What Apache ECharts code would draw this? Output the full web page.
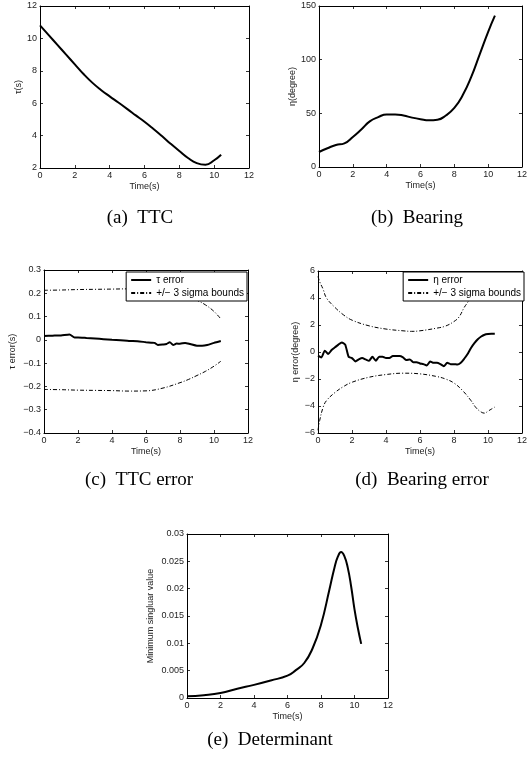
<!DOCTYPE html>
<html>
<head>
<meta charset="utf-8">
<script src="https://cdn.jsdelivr.net/npm/echarts@6/dist/echarts.min.js"></script>
<style>html,body{margin:0;padding:0;background:#fff}#c{width:530px;height:761px}</style>
</head>
<body>
<div id="c"></div>
<script>
// (a) TTC
const ttcT = [0,0.5,1,1.5,2,2.5,3,3.5,4,4.5,5,5.5,6,6.5,7,7.5,8,8.5,9,9.5,10,10.4];
const ttcV = [10.8,10.2,9.6,9.0,8.4,7.8,7.27,6.82,6.42,6.04,5.65,5.25,4.85,4.42,3.97,3.5,3.05,2.62,2.3,2.2,2.48,2.82];
// (b) Bearing
const brgT = [0,0.5,1,1.5,2,2.5,3,3.5,4,4.5,5,5.5,6,6.5,7,7.5,8,8.5,9,9.5,10,10.4];
const brgV = [14,17.5,20.5,22,28,35,42.5,46.5,49,49,48,46,44.5,43.5,44,48,55,67,84,105,126,141];
// (c) TTC error
const tauErrT = [0,0.5,1,1.5,1.8,2,2.5,3,3.5,4,4.5,5,5.5,6,6.3,6.5,6.7,7,7.2,7.4,7.6,7.8,8,8.3,8.6,9,9.3,9.6,10,10.4];
const tauErrV = [0.017,0.018,0.019,0.023,0.010,0.010,0.008,0.006,0.003,0.000,-0.002,-0.005,-0.006,-0.010,-0.012,-0.013,-0.022,-0.020,-0.018,-0.010,-0.022,-0.016,-0.017,-0.013,-0.018,-0.025,-0.025,-0.022,-0.013,-0.005];
const tauBndT = [0,1,2,3,4,5,6,7,8,8.5,9,9.5,10,10.4];
const tauUpV = [0.213,0.214,0.216,0.217,0.218,0.219,0.219,0.215,0.200,0.188,0.170,0.150,0.122,0.090];
const tauLoV = [-0.213,-0.214,-0.216,-0.217,-0.218,-0.220,-0.219,-0.207,-0.184,-0.170,-0.153,-0.135,-0.113,-0.092];
// (d) Bearing error
const etaErrT = [0,0.2,0.4,0.6,0.8,1.0,1.2,1.4,1.6,1.8,2.0,2.2,2.4,2.6,2.8,3.0,3.2,3.4,3.6,3.8,4.0,4.2,4.4,4.6,4.8,5.0,5.2,5.4,5.6,5.8,6.0,6.2,6.4,6.6,6.8,7.0,7.2,7.4,7.6,7.8,8.0,8.2,8.4,8.6,8.8,9.0,9.2,9.4,9.6,9.8,10.0,10.2,10.4];
const etaErrV = [-0.27,-0.4,0.1,-0.15,0.15,0.35,0.55,0.7,0.55,-0.35,-0.45,-0.7,-0.55,-0.45,-0.55,-0.65,-0.35,-0.65,-0.35,-0.35,-0.45,-0.45,-0.3,-0.3,-0.3,-0.4,-0.6,-0.55,-0.75,-0.75,-0.85,-0.9,-1.0,-0.7,-0.8,-0.8,-0.9,-1.05,-0.8,-0.9,-0.9,-0.93,-0.8,-0.5,-0.15,0.3,0.65,0.95,1.15,1.28,1.33,1.35,1.35];
const etaUpT = [0,0.1,0.3,0.5,1,1.5,2,3,4,5,5.5,6,7,7.5,8,8.3,8.6,8.8,9,9.3,9.6,10,10.4];
const etaUpV = [5.6,5.2,4.65,4.0,3.3,2.75,2.36,1.94,1.7,1.57,1.53,1.57,1.77,1.92,2.26,2.6,3.3,3.67,4.1,4.6,4.9,4.8,4.5];
const etaLoT = [0,0.1,0.3,0.5,1,1.5,2,3,4,5,6,7,7.5,8,8.5,9,9.3,9.6,9.8,10,10.2,10.4];
const etaLoV = [-5.8,-5.07,-4.1,-3.6,-3.0,-2.56,-2.24,-1.87,-1.67,-1.57,-1.62,-1.82,-2.0,-2.3,-2.85,-3.6,-4.13,-4.45,-4.53,-4.38,-4.23,-4.08];
// (e) Determinant
const detT = [0,1,2,3,4,5,6,6.5,7,7.5,8,8.5,8.8,9,9.2,9.4,9.6,9.8,10,10.2,10.4];
const detV = [0.0003,0.0005,0.0009,0.0017,0.0024,0.0032,0.0041,0.0051,0.0064,0.0091,0.0134,0.0198,0.0238,0.0258,0.0267,0.0259,0.0238,0.0204,0.0162,0.0128,0.0099];

const captions = ['(a)  TTC','(b)  Bearing','(c)  TTC error','(d)  Bearing error','(e)  Determinant'];
const yNames = ['τ(s)','η(degree)','τ error(s)','η error(degree)','Minimum singluar value'];
const xName = 'Time(s)';
const yRanges = [[2,12,2],[0,150,50],[-0.4,0.3,0.1],[-6,6,2],[0,0.03,0.005]];
const xRange = [0,12,2];

const SANS = 'Liberation Sans';
const zip = (t,v) => t.map((x,i)=>[x,v[i]]);
const fmt = v => { const s = String(Number(v.toFixed(4))); return s.replace('-', '\u2212'); };

const grids = [
  {left:40, top:6, width:209, height:162},
  {left:319, top:6, width:210, height:161},
  {left:44, top:270, width:204, height:163},
  {left:318, top:271, width:210, height:162},
  {left:187, top:534, width:201, height:164}
];
const yNameGaps = [9, 22, 27, 18, 32];

const xAxes = [], yAxes = [];
const axLine = {show:true, onZero:false, lineStyle:{color:'#000', width:1}};
const tick = {show:true, inside:true, length:3, lineStyle:{color:'#000', width:0.8}};
const FS = 9;
grids.forEach((g,i)=>{
  const [ymin,ymax,yint] = yRanges[i];
  xAxes.push({gridIndex:i, type:'value', position:'bottom', min:xRange[0], max:xRange[1], interval:xRange[2],
    axisLine:axLine, axisTick:tick, splitLine:{show:false},
    axisLabel:{fontFamily:SANS, fontSize:FS, color:'#222', margin:3, formatter:fmt},
    name:xName, nameLocation:'middle', nameGap:14, nameTextStyle:{fontFamily:SANS, fontSize:FS, color:'#222'}});
  xAxes.push({gridIndex:i, type:'value', position:'top', min:xRange[0], max:xRange[1], interval:xRange[2],
    axisLine:axLine, axisTick:tick, splitLine:{show:false}, axisLabel:{show:false}});
  yAxes.push({gridIndex:i, type:'value', position:'left', min:ymin, max:ymax, interval:yint,
    axisLine:axLine, axisTick:tick, splitLine:{show:false},
    axisLabel:{fontFamily:SANS, fontSize:FS, color:'#222', margin:3, formatter:fmt, showMinLabel:true, showMaxLabel:true},
    name:yNames[i], nameLocation:'middle', nameGap:yNameGaps[i], nameTextStyle:{fontFamily:SANS, fontSize:FS, color:'#222'}});
  yAxes.push({gridIndex:i, type:'value', position:'right', min:ymin, max:ymax, interval:yint,
    axisLine:axLine, axisTick:tick, splitLine:{show:false}, axisLabel:{show:false}});
});

const DASHDOT = [4,2,1,2];
const solid = (name, gi, t, v, smooth) => ({name, type:'line', xAxisIndex:gi*2, yAxisIndex:gi*2, data:zip(t,v),
  symbol:'none', smooth:smooth, lineStyle:{color:'#000', width:2}, itemStyle:{color:'#000'}, animation:false});
const bound = (name, gi, t, v) => ({name, type:'line', xAxisIndex:gi*2, yAxisIndex:gi*2, data:zip(t,v),
  symbol:'none', smooth:0.4, lineStyle:{color:'#000', width:1, type:DASHDOT}, itemStyle:{color:'#000'}, animation:false});

const BNAME = '+/\u2212 3 sigma bounds';
const series = [
  solid('TTC', 0, ttcT, ttcV, 0.5),
  solid('Bearing', 1, brgT, brgV, 0.5),
  solid('τ error', 2, tauErrT, tauErrV, 0.2),
  bound(BNAME, 2, tauBndT, tauUpV),
  bound(BNAME, 2, tauBndT, tauLoV),
  solid('η error', 3, etaErrT, etaErrV, 0.2),
  bound(BNAME, 3, etaUpT, etaUpV),
  bound(BNAME, 3, etaLoT, etaLoV),
  solid('Determinant', 4, detT, detV, 0.5)
];

const legendBase = {orient:'vertical', selectedMode:false, backgroundColor:'#fff', borderColor:'#000', borderWidth:1,
  padding:[3,3,3,4], itemGap:3, itemWidth:20, itemHeight:8, itemTextGap:2,
  itemStyle:{opacity:0, borderWidth:0},
  textStyle:{fontFamily:SANS, fontSize:10, color:'#000'}};

const capStyle = {textAlign:'center', textVerticalAlign:'middle', fontFamily:'Liberation Serif', fontSize:19, fill:'#000'};
const chart = echarts.init(document.getElementById('c'), null, {renderer:'canvas'});
chart.setOption({
  backgroundColor:'#fff',
  animation:false,
  grid:grids,
  xAxis:xAxes,
  yAxis:yAxes,
  legend:[
    Object.assign({}, legendBase, {right:283, top:272, data:['τ error', BNAME]}),
    Object.assign({}, legendBase, {right:6, top:272, data:['η error', BNAME]})
  ],
  graphic:[
    {type:'text', x:140, y:218, style:Object.assign({text:captions[0]}, capStyle)},
    {type:'text', x:417, y:218, style:Object.assign({text:captions[1]}, capStyle)},
    {type:'text', x:139, y:480, style:Object.assign({text:captions[2]}, capStyle)},
    {type:'text', x:422, y:480, style:Object.assign({text:captions[3]}, capStyle)},
    {type:'text', x:270, y:740, style:Object.assign({text:captions[4]}, capStyle)}
  ],
  series:series
});
</script>
</body>
</html>
